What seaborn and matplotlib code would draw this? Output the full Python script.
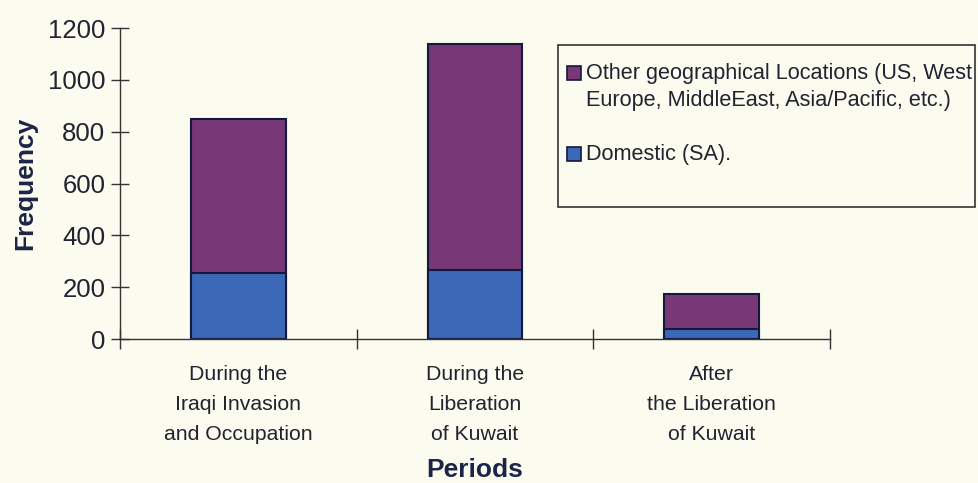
import matplotlib
matplotlib.use("Agg")
import matplotlib.pyplot as plt
import seaborn as sns
import pandas as pd
from matplotlib.patches import Rectangle

periods = ["During the\nIraqi Invasion\nand Occupation",
           "During the\nLiberation\nof Kuwait",
           "After\nthe Liberation\nof Kuwait"]
domestic = [255, 268, 40]
other = [595, 872, 135]
series_names = ["Other geographical Locations (US, West\nEurope, MiddleEast, Asia/Pacific, etc.)",
                "Domestic (SA)."]
y_ticks = [0, 200, 400, 600, 800, 1000, 1200]

totals = [d + o for d, o in zip(domestic, other)]
df = pd.DataFrame({"period": periods, "domestic": domestic, "total": totals})

sns.set_style("ticks")
plt.rcParams["font.family"] = ["Liberation Sans", "DejaVu Sans"]

bg = "#fcfbef"
purple = "#783776"
blue = "#3c68b8"
edge = "#141a3c"
navy = "#1c2448"
textc = "#222230"

W, H = 979, 483
fig = plt.figure(figsize=(W / 100, H / 100), dpi=100, facecolor=bg)
ax = fig.add_axes([0.1226, 0.2981, 0.7252, 0.6439])
ax.set_facecolor(bg)

sns.barplot(data=df, x="period", y="total", color=purple, width=0.4,
            edgecolor=edge, linewidth=1.5, saturation=1, ax=ax)
sns.barplot(data=df, x="period", y="domestic", color=blue, width=0.4,
            edgecolor=edge, linewidth=1.5, saturation=1, ax=ax)

ax.set_xlim(-0.5, 2.5)
ax.set_ylim(0, 1200)
ax.set_yticks(y_ticks)
ax.set_yticklabels([str(v) for v in y_ticks], fontsize=18.5, color=textc)
ax.tick_params(axis="y", direction="inout", length=13, width=1, color="#333333", pad=4)

ax.set_xticks([0, 1, 2])
ax.set_xticklabels(periods, fontsize=15.3, color=textc, linespacing=1.75)
ax.tick_params(axis="x", which="major", length=0, pad=18.5)
ax.set_xticks([-0.5, 0.5, 1.5, 2.5], minor=True)
ax.tick_params(axis="x", which="minor", direction="inout", length=14, width=1, color="#333333")

for s in ["top", "right"]:
    ax.spines[s].set_visible(False)
for s in ["left", "bottom"]:
    ax.spines[s].set_color("#333333")
    ax.spines[s].set_linewidth(1)

ax.set_xlabel("Periods", fontsize=19, fontweight="bold", color=navy, labelpad=10)
ax.set_ylabel("Frequency", fontsize=19, fontweight="bold", color=navy, labelpad=8)

# legend box drawn by hand so the swatch sits beside the first line of text
fig.patches.append(Rectangle((558 / W, 1 - 207 / H), 417 / W, 162 / H, transform=fig.transFigure,
                             facecolor="none", edgecolor="#333333", linewidth=1.2))
for name, col, ytop in [(series_names[0], purple, 64), (series_names[1], blue, 145)]:
    fig.patches.append(Rectangle((567 / W, 1 - (ytop + 16) / H), 14 / W, 14 / H,
                                 transform=fig.transFigure, facecolor=col,
                                 edgecolor=edge, linewidth=1.2))
    fig.text(586 / W, 1 - (ytop - 1) / H, name, fontsize=15.6, color=textc,
             va="top", ha="left", linespacing=1.39)

fig.savefig("out.png", dpi=100, facecolor=bg)
